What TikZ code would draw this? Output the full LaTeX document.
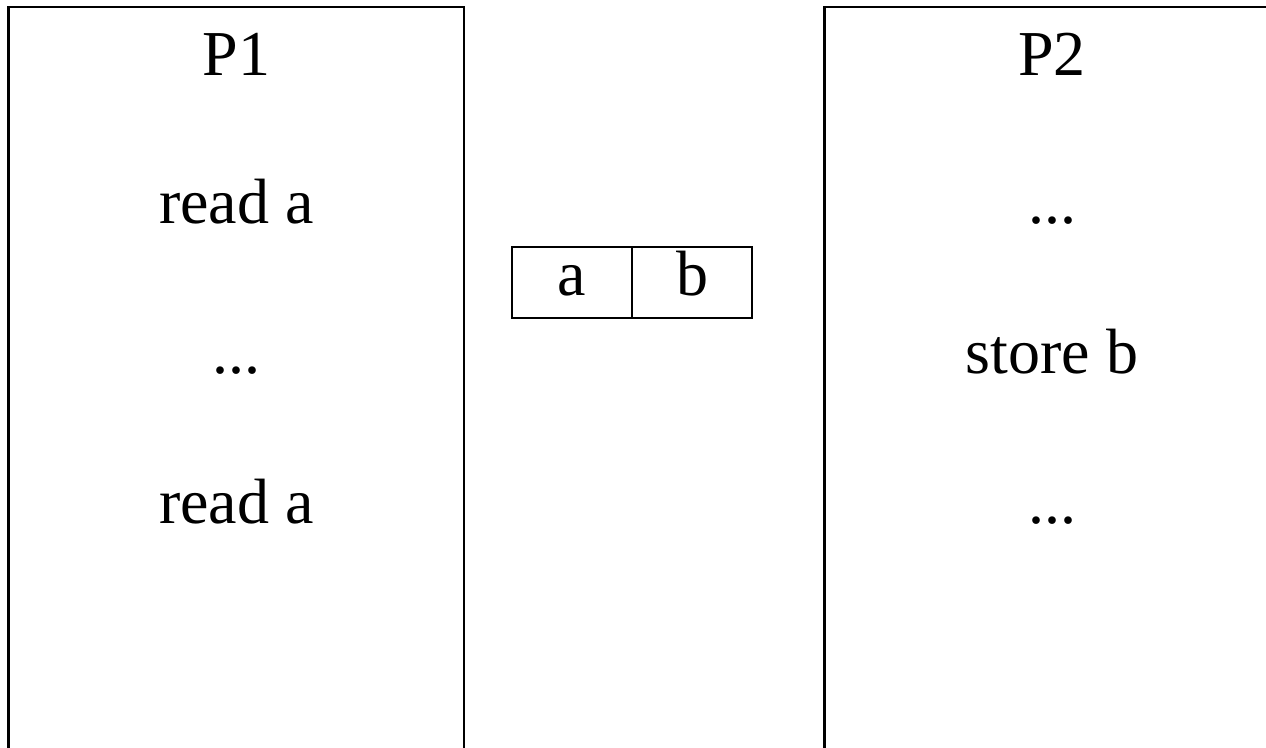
\documentclass[tikz,border=0pt]{standalone}
\usepackage{fontspec}
\setmainfont{Liberation Serif}
\begin{document}
\begin{tikzpicture}[x=1pt,y=-1pt,
  frame/.style={draw=black, line width=2.4pt, fill=none, inner sep=0pt, outer sep=0pt},
  stepline/.style={font=\fontsize{64}{76}\selectfont, anchor=base, inner sep=0pt},
  cell/.style={draw=black, line width=2.2pt, minimum width=120pt, minimum height=71pt,
    inner sep=0pt, outer sep=0pt, text height=25pt, text depth=0pt, font=\fontsize{64}{76}\selectfont}]
  \useasboundingbox (0,0) rectangle (1266,747);
  \clip (0,0) rectangle (1266,747);

  % process columns (open at the bottom)
  \node[frame, minimum width=455.5pt, minimum height=800pt, anchor=north west] (p1box) at (8.5,7) {};
  \node[frame, minimum width=456pt, minimum height=800pt, anchor=north west] (p2box) at (824.5,7) {};

  % process P1
  \node[stepline] (p1) at (236.5,75) {P1};
  \node[stepline] (p1r1) at (236.5,223) {read a};
  \node[stepline] (p1d) at (236.5,373) {...};
  \node[stepline] (p1r2) at (236.5,523) {read a};

  % process P2
  \node[stepline] (p2) at (1052,75) {P2};
  \node[stepline] (p2d1) at (1052,223) {...};
  \node[stepline] (p2s) at (1052,373) {store b};
  \node[stepline] (p2d2) at (1052,523) {...};

  % shared memory
  \node[cell] (ma) at (572,282.5) {a};
  \node[cell] (mb) at (692,282.5) {b};
\end{tikzpicture}
\end{document}
